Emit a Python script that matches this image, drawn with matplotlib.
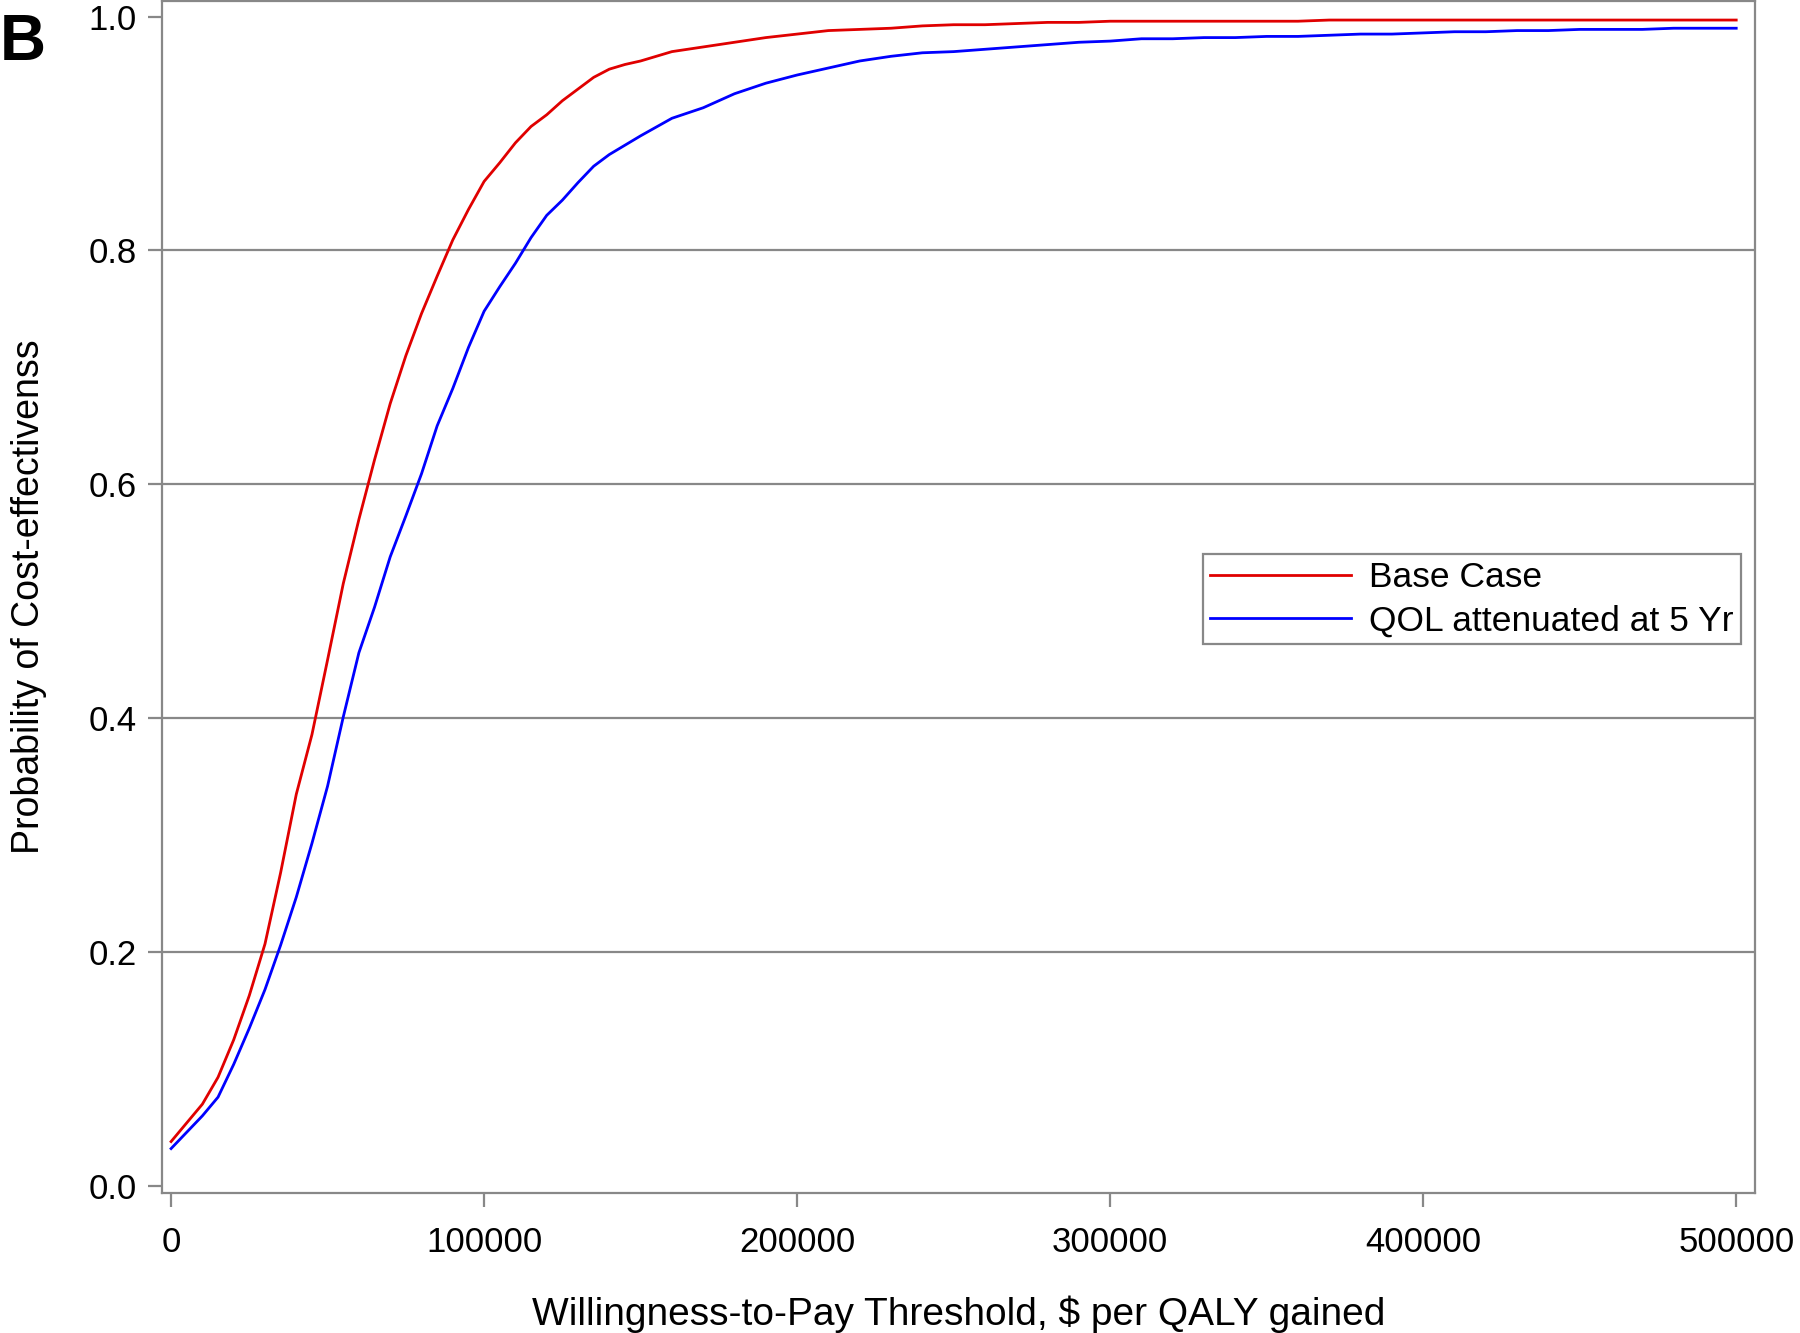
import numpy as np
import matplotlib.pyplot as plt

plt.rcParams['font.family'] = ['Liberation Sans', 'DejaVu Sans']

# willingness-to-pay thresholds ($ per QALY)
wtp = list(range(0, 150001, 5000)) + list(range(160000, 500001, 10000))

# probability of cost-effectiveness, base case
base_case = [0.038, 0.054, 0.070, 0.093, 0.125, 0.163, 0.207, 0.268, 0.335, 0.386,
             0.450, 0.515, 0.570, 0.621, 0.669, 0.710, 0.746, 0.778, 0.809, 0.835,
             0.859, 0.875, 0.892, 0.906, 0.916, 0.928, 0.938, 0.948, 0.955, 0.959,
             0.962,
             0.970, 0.974, 0.978, 0.982, 0.985, 0.988, 0.989, 0.990, 0.992, 0.993,
             0.993, 0.994, 0.995, 0.995, 0.996, 0.996, 0.996, 0.996, 0.996, 0.996,
             0.996, 0.997, 0.997, 0.997, 0.997, 0.997, 0.997, 0.997, 0.997, 0.997,
             0.997, 0.997, 0.997, 0.997, 0.997]

# QOL attenuated at 5 years
qol_5yr = [0.032, 0.046, 0.060, 0.076, 0.104, 0.135, 0.168, 0.206, 0.247, 0.293,
           0.342, 0.401, 0.456, 0.495, 0.538, 0.573, 0.609, 0.650, 0.682, 0.717,
           0.748, 0.769, 0.789, 0.811, 0.830, 0.843, 0.858, 0.872, 0.882, 0.890,
           0.898,
           0.913, 0.922, 0.934, 0.943, 0.950, 0.956, 0.962, 0.966, 0.969, 0.970,
           0.972, 0.974, 0.976, 0.978, 0.979, 0.981, 0.981, 0.982, 0.982, 0.983,
           0.983, 0.984, 0.985, 0.985, 0.986, 0.987, 0.987, 0.988, 0.988, 0.989,
           0.989, 0.989, 0.990, 0.990, 0.990]

xticks = [0, 100000, 200000, 300000, 400000, 500000]
yticks = [0.0, 0.2, 0.4, 0.6, 0.8, 1.0]

gray = '#888888'

fig = plt.figure(figsize=(18, 13.33), dpi=100)
ax = fig.add_axes([0.09, 0.105, 0.885, 0.894])

for y in yticks[1:-1]:
    ax.axhline(y, color=gray, lw=1.6, zorder=1)

ax.plot(wtp, base_case, color='#e00000', lw=2, label='Base Case', zorder=3)
ax.plot(wtp, qol_5yr, color='#0000ff', lw=2, label='QOL attenuated at 5 Yr', zorder=3)

ax.set_xlim(-2900, 506000)
ax.set_ylim(-0.006, 1.013)
ax.set_xticks(xticks)
ax.set_xticklabels([str(v) for v in xticks])
ax.set_yticks(yticks)
ax.set_yticklabels(['%.1f' % v for v in yticks])
ax.tick_params(axis='both', colors=gray, labelcolor='black', labelsize=25,
               length=10, width=1.6, direction='out')
ax.tick_params(axis='y', pad=8)
ax.tick_params(axis='x', pad=14)
for s in ax.spines.values():
    s.set_color(gray)
    s.set_linewidth(1.6)

ax.set_xlabel('Willingness-to-Pay Threshold, $ per QALY gained', fontsize=28, labelpad=26)
ax.set_ylabel('Probability of Cost-effectivenss', fontsize=27, labelpad=30)

leg = ax.legend(loc='upper right', bbox_to_anchor=(0.991, 0.536), borderaxespad=0,
                fontsize=25.5, handlelength=4.0, handletextpad=0.5, fancybox=False,
                edgecolor=gray, framealpha=1, borderpad=0.2, labelspacing=0.28)
leg.get_frame().set_linewidth(1.6)

fig.text(0.0, 0.99, 'B', fontsize=46, fontweight='bold', va='top', ha='left')

fig.savefig('out.png', dpi=100)
